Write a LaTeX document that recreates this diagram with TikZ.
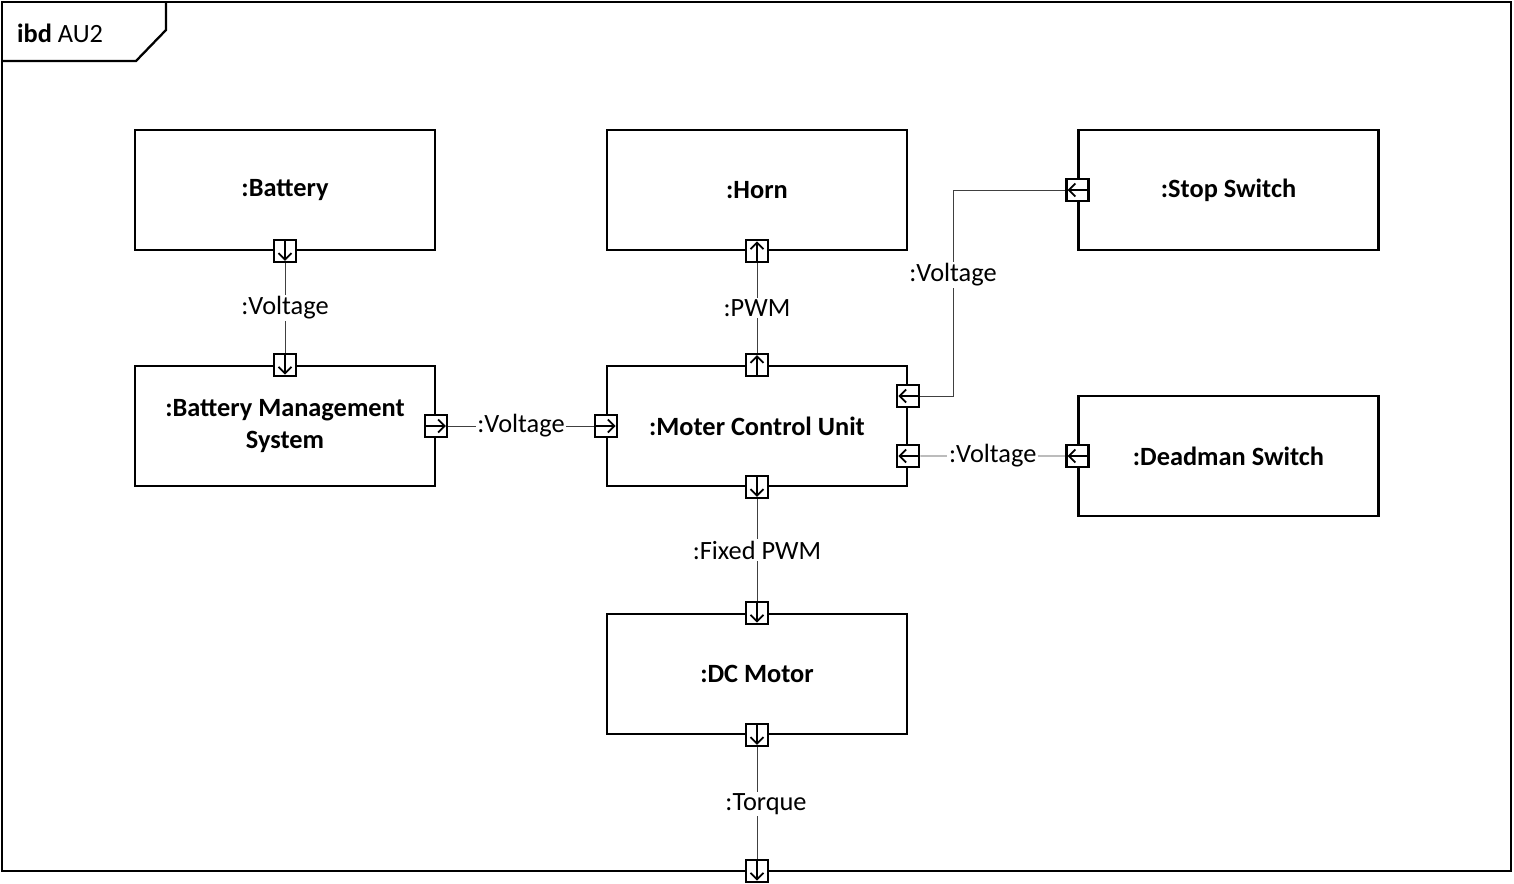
\documentclass[tikz,border=0pt]{standalone}
\usepackage{fontspec}
\setmainfont{Carlito}
\usepackage{tikz}
\usetikzlibrary{arrows.meta}

\tikzset{
  block/.style={draw, line width=1.3pt, minimum width=6cm, minimum height=2.4cm,
    font=\fontsize{15}{18}\selectfont\bfseries, align=center},
  port/.style={draw, line width=1.3pt, fill=white, minimum size=0.44cm, inner sep=0pt},
  portarrow/.style={line width=1pt, shorten <=1.4pt, shorten >=1.4pt,
    -{Straight Barb[length=1.3mm, width=2.6mm]}},
  flow/.style={draw, black!75, line width=0.5pt},
  flowlabel/.style={fill=white, text=black, inner sep=1pt}
}
\newcommand{\portarrow}[3]{\draw[portarrow] (#1.#2) -- (#1.#3);}

\begin{document}
\begin{tikzpicture}[font=\fontsize{15}{18}\selectfont]
      \useasboundingbox (0,0) rectangle (30.28,-17.68);

      % Frame with title tab
      \draw[line width=1.3pt] (0.04,-0.04) rectangle (30.22,-17.42);
      \draw[line width=1.3pt] (3.32,-0.04) -- (3.32,-0.6) -- (2.72,-1.22) -- (0.04,-1.22);
      \node[anchor=west] (title) at (0.22,-0.66) {\textbf{ibd} AU2};

      % Define blocks
      \node[block] (battery) at (5.7,-3.8) {:Battery};
      \node[block] (horn) at (15.14,-3.8) {:Horn};
      \node[block] (stopsw) at (24.57,-3.8) {:Stop Switch};
      \node[block] (bms) at (5.7,-8.52) {:Battery Management\\System};
      \node[block] (mcu) at (15.14,-8.52) {:Moter Control Unit};
      \node[block] (deadman) at (24.57,-9.12) {:Deadman Switch};
      \node[block] (motor) at (15.14,-13.48) {:DC Motor};

      % Define ports
      \node[port] (batteryout) at (battery.south) {};
      \node[port] (bmsin) at (bms.north) {};
      \node[port] (bmsout) at (bms.east) {};
      \node[port] (mcuin) at (mcu.west) {};
      \node[port] (hornin) at (horn.south) {};
      \node[port] (mcupwm) at (mcu.north) {};
      \node[port] (mcustop) at ([yshift=0.6cm]mcu.east) {};
      \node[port] (mcudead) at ([yshift=-0.6cm]mcu.east) {};
      \node[port] (stopout) at (stopsw.west) {};
      \node[port] (deadout) at (deadman.west) {};
      \node[port] (mcuout) at (mcu.south) {};
      \node[port] (motorin) at (motor.north) {};
      \node[port] (motorout) at (motor.south) {};
      \node[port] (torqueout) at (15.14,-17.42) {};

      % Port directions
      \portarrow{batteryout}{north}{south}
      \portarrow{bmsin}{north}{south}
      \portarrow{bmsout}{west}{east}
      \portarrow{mcuin}{west}{east}
      \portarrow{hornin}{south}{north}
      \portarrow{mcupwm}{south}{north}
      \portarrow{mcustop}{east}{west}
      \portarrow{mcudead}{east}{west}
      \portarrow{stopout}{east}{west}
      \portarrow{deadout}{east}{west}
      \portarrow{mcuout}{north}{south}
      \portarrow{motorin}{north}{south}
      \portarrow{motorout}{north}{south}
      \portarrow{torqueout}{north}{south}

      % Connectors
      \draw[flow] (batteryout) -- (bmsin)
        node[flowlabel, midway] (lblbat) {:Voltage};
      \draw[flow] (mcupwm) -- (hornin)
        node[flowlabel, midway] (lblpwm) {:PWM};
      \draw[flow] (bmsout) -- (mcuin)
        node[flowlabel, midway] (lblbms) {:Voltage};
      \draw[flow] (deadout) -- (mcudead)
        node[flowlabel, midway] (lbldead) {:Voltage};
      \draw[flow] (mcuout) -- (motorin)
        node[flowlabel, midway] (lblfixed) {:Fixed PWM};
      \draw[flow] (motorout) -- (torqueout);
      \node[flowlabel] (lbltorque) at (15.32,-16.08) {:Torque};

      % Stop switch connector with bend
      \coordinate (stopbend) at (19.06,-5.5);
      \draw[flow] (stopout.west) -| (stopbend) |- (mcustop.east);
      \node[flowlabel] (lblstop) at (stopbend) {:Voltage};
    \end{tikzpicture}
\end{document}
